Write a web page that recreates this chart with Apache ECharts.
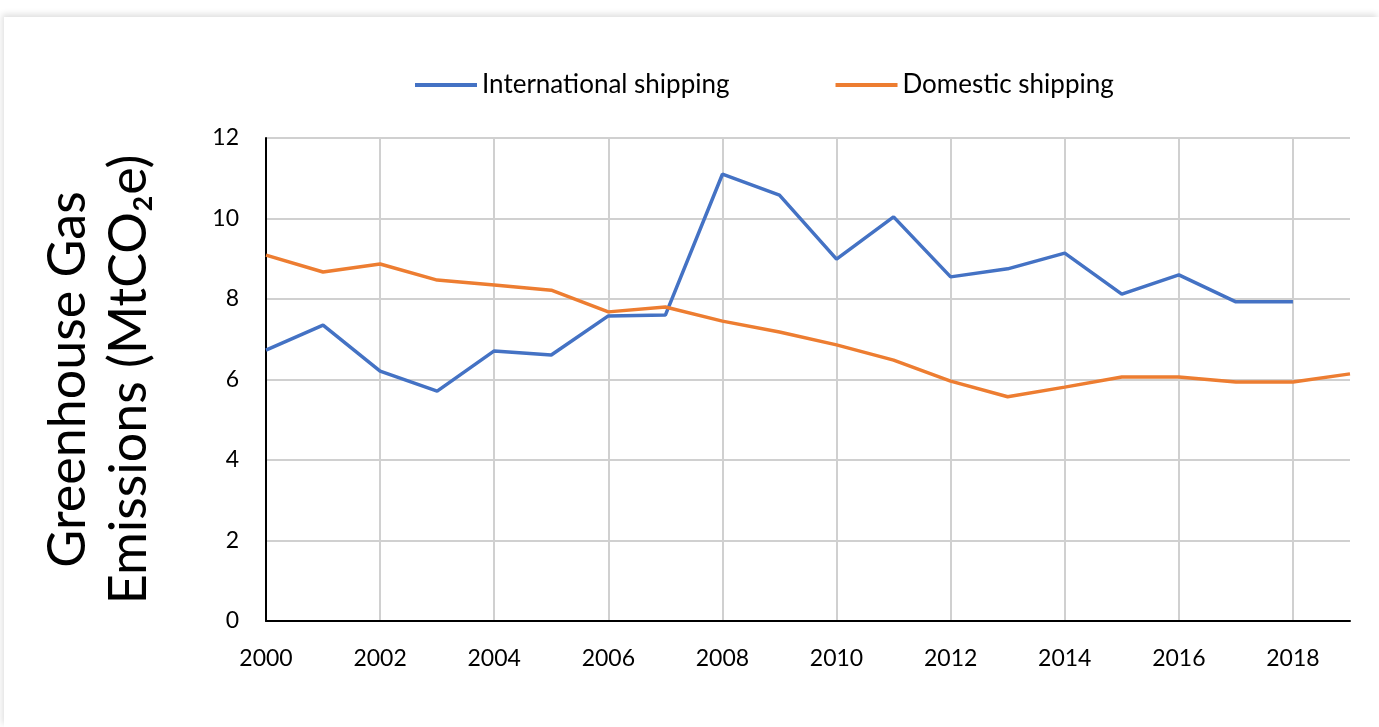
<!DOCTYPE html>
<html>
<head>
<meta charset="utf-8">
<script src="https://cdn.jsdelivr.net/npm/echarts@6/dist/echarts.min.js"></script>
<style>
  html, body { margin: 0; padding: 0; background: #fff; }
  #report { position: absolute; left: 4px; top: 17px; width: 1375px; height: 710px;
            background: #fff; box-shadow: -2px -3px 6px rgba(0,0,0,0.12); }
</style>
</head>
<body>
<div id="report"></div>
<script>
var years = ['2000','2001','2002','2003','2004','2005','2006','2007','2008','2009',
             '2010','2011','2012','2013','2014','2015','2016','2017','2018','2019'];
var international = [6.73, 7.35, 6.21, 5.71, 6.71, 6.61, 7.58, 7.60, 11.10, 10.58,
                     8.99, 10.04, 8.55, 8.75, 9.14, 8.12, 8.60, 7.93, 7.93, null];
var domestic = [9.09, 8.67, 8.87, 8.47, 8.35, 8.22, 7.68, 7.80, 7.45, 7.18,
                6.86, 6.48, 5.96, 5.57, 5.81, 6.06, 6.06, 5.94, 5.94, 6.14];
var yTicks = [0, 2, 4, 6, 8, 10, 12];

var myChart = echarts.init(document.getElementById('report'));

var font = 'Lato';
option = {
  animation: false,
  textStyle: { fontFamily: font },
  legend: {
    top: 50,
    left: 406,
    icon: 'rect',
    itemWidth: 62,
    itemHeight: 4,
    itemGap: 106,
    textStyle: { fontSize: 26, color: '#000', fontFamily: font },
    data: ['International shipping', 'Domestic shipping']
  },
  grid: { left: 262, right: 29, top: 121, bottom: 106, containLabel: false, outerBoundsMode: 'none' },
  xAxis: {
    type: 'category',
    boundaryGap: false,
    data: years,
    axisLine: { lineStyle: { color: '#000', width: 2 } },
    axisTick: { show: false },
    axisLabel: { interval: 1, fontSize: 23, color: '#000', margin: 26, fontFamily: font },
    splitLine: { show: true, interval: 1, lineStyle: { color: '#d0d0d0', width: 2 } }
  },
  yAxis: {
    type: 'value',
    min: yTicks[0],
    max: yTicks[yTicks.length - 1],
    interval: 2,
    axisLine: { show: true, lineStyle: { color: '#000', width: 2 } },
    axisTick: { show: false },
    axisLabel: { fontSize: 23, color: '#000', margin: 27, fontFamily: font },
    splitLine: { lineStyle: { color: '#d0d0d0', width: 2 } },
    name: 'Greenhouse Gas\nEmissions (MtCO\u2082e)',
    nameLocation: 'middle',
    nameGap: 106,
    nameTextStyle: { fontSize: 52, color: '#000', lineHeight: 61, fontFamily: font }
  },
  series: [
    {
      name: 'International shipping',
      type: 'line',
      data: international,
      showSymbol: false,
      color: '#4472C4',
      lineStyle: { width: 3.5, color: '#4472C4' }
    },
    {
      name: 'Domestic shipping',
      type: 'line',
      data: domestic,
      showSymbol: false,
      color: '#ED7D31',
      lineStyle: { width: 3.5, color: '#ED7D31' }
    }
  ]
};

myChart.setOption(option);
</script>
</body>
</html>
